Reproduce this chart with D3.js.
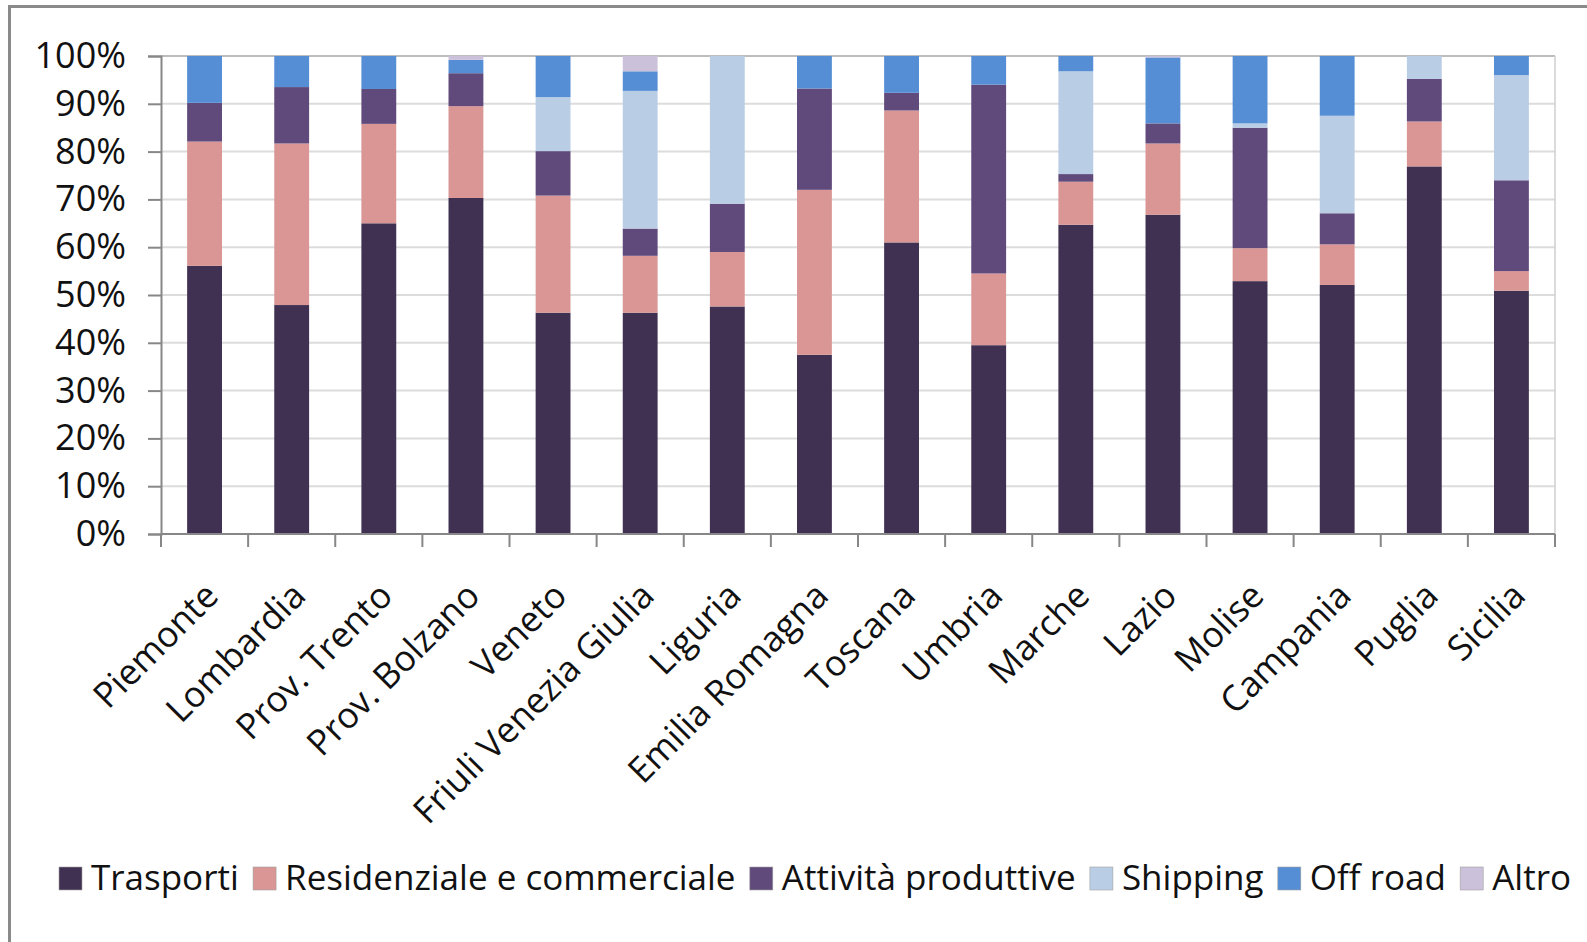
<!DOCTYPE html>
<html>
<head>
<meta charset="utf-8">
<script src="https://cdn.jsdelivr.net/npm/d3@7"></script>
<style>
  body { margin: 0; background: #fff; }
  text { font-family: "Open Sans", "Noto Sans", sans-serif; fill: #111; }
</style>
</head>
<body>
<div id="chart"></div>
<script>
// Regions on the x axis
const regions = ['Piemonte', 'Lombardia', 'Prov. Trento', 'Prov. Bolzano', 'Veneto',
  'Friuli Venezia Giulia', 'Liguria', 'Emilia Romagna', 'Toscana', 'Umbria',
  'Marche', 'Lazio', 'Molise', 'Campania', 'Puglia', 'Sicilia'];

// Share of each sector (%)
const trasporti     = [56.1, 47.9, 65.0, 70.3, 46.3, 46.3, 47.6, 37.5, 61.0, 39.5, 64.7, 66.8, 52.9, 52.1, 76.9, 50.9];
const residenziale  = [26.0, 33.8, 20.8, 19.2, 24.5, 11.9, 11.4, 34.5, 27.6, 15.0,  9.0, 14.9,  6.9,  8.5,  9.4,  4.1];
const attivita      = [ 8.1, 11.8,  7.3,  6.9,  9.3,  5.7, 10.1, 21.2,  3.7, 39.5,  1.6,  4.2, 25.2,  6.5,  8.9, 19.0];
const shipping      = [ 0.0,  0.0,  0.0,  0.0, 11.3, 28.8, 30.9,  0.0,  0.0,  0.0, 21.5,  0.0,  0.9, 20.4,  4.8, 22.0];
const offRoad       = [ 9.8,  6.5,  6.9,  2.8,  8.6,  4.1,  0.0,  6.8,  7.7,  6.0,  3.2, 13.8, 14.1, 12.5,  0.0,  4.0];
const altro         = [ 0.0,  0.0,  0.0,  0.8,  0.0,  3.2,  0.0,  0.0,  0.0,  0.0,  0.0,  0.3,  0.0,  0.0,  0.0,  0.0];

const seriesNames = ['Trasporti', 'Residenziale e commerciale', 'Attività produttive', 'Shipping', 'Off road', 'Altro'];
const seriesValues = [trasporti, residenziale, attivita, shipping, offRoad, altro];
const seriesColors = ['#403152', '#d99694', '#604a7b', '#b9cde5', '#558ed5', '#ccc1da'];

const yTicks = [0, 10, 20, 30, 40, 50, 60, 70, 80, 90, 100];

// Build table for d3.stack
const table = regions.map((r, i) => {
  const row = { region: r };
  seriesNames.forEach((s, j) => { row[s] = seriesValues[j][i]; });
  return row;
});

const W = 1587, H = 942;
const margin = { top: 56, right: 32, bottom: 408, left: 161 };
const width = W - margin.left - margin.right;
const height = H - margin.top - margin.bottom;

const svg = d3.select('#chart')
  .append('svg')
  .attr('width', W)
  .attr('height', H);

svg.append('rect').attr('width', W).attr('height', H).attr('fill', '#fff');

// Outer frame (left and top visible)
svg.append('line').attr('x1', 9.5).attr('x2', 9.5).attr('y1', 5).attr('y2', H)
  .attr('stroke', '#8a8a8a').attr('stroke-width', 3);
svg.append('line').attr('x1', 8).attr('x2', W).attr('y1', 6.5).attr('y2', 6.5)
  .attr('stroke', '#8a8a8a').attr('stroke-width', 3);

const g = svg.append('g')
  .attr('transform', 'translate(' + margin.left + ',' + margin.top + ')');

const xScale = d3.scaleBand()
  .domain(regions)
  .range([0, width])
  .paddingInner(0.6)
  .paddingOuter(0.3);

const yScale = d3.scaleLinear()
  .domain([0, 100])
  .range([height, 0]);

// Gridlines
g.selectAll('.grid')
  .data(yTicks.slice(1))
  .enter()
  .append('line')
  .attr('x1', 0)
  .attr('x2', width)
  .attr('y1', d => yScale(d))
  .attr('y2', d => yScale(d))
  .attr('stroke', d => d === 100 ? '#bdbdbd' : '#dcdcdc')
  .attr('stroke-width', 2);

// Right border of plot area
g.append('line')
  .attr('x1', width).attr('x2', width)
  .attr('y1', 0).attr('y2', height)
  .attr('stroke', '#cfcfcf').attr('stroke-width', 1.5);

// Stacked bars
const stack = d3.stack().keys(seriesNames);
const layers = stack(table);

g.selectAll('.layer')
  .data(layers)
  .enter()
  .append('g')
  .attr('fill', (d, i) => seriesColors[i])
  .selectAll('rect')
  .data(d => d)
  .enter()
  .append('rect')
  .attr('x', d => xScale(d.data.region))
  .attr('y', d => yScale(d[1]))
  .attr('width', xScale.bandwidth())
  .attr('height', d => yScale(d[0]) - yScale(d[1]));

// Y axis
const yAxis = g.append('g')
  .call(d3.axisLeft(yScale).tickValues(yTicks).tickSize(13).tickPadding(22)
    .tickFormat(d => d + '%'));
yAxis.select('.domain').attr('stroke', '#878787').attr('stroke-width', 2);
yAxis.selectAll('.tick line').attr('stroke', '#878787').attr('stroke-width', 2);
yAxis.selectAll('.tick text')
  .attr('font-size', 36)
  .attr('fill', '#111')
  .style('font-family', '"Open Sans", sans-serif');

// X axis: line plus ticks at category boundaries
g.append('line')
  .attr('x1', 0).attr('x2', width)
  .attr('y1', height).attr('y2', height)
  .attr('stroke', '#878787').attr('stroke-width', 2);

const boundaries = d3.range(regions.length + 1).map(i => i * xScale.step());
g.selectAll('.xtick')
  .data(boundaries)
  .enter()
  .append('line')
  .attr('x1', d => d).attr('x2', d => d)
  .attr('y1', height).attr('y2', height + 13)
  .attr('stroke', '#878787').attr('stroke-width', 2);

// Rotated category labels
g.selectAll('.xlabel')
  .data(regions)
  .enter()
  .append('text')
  .attr('transform', d => 'translate(' + (xScale(d) + xScale.bandwidth() / 2 + 6) + ',' + (height + 54) + ') rotate(-45)')
  .attr('text-anchor', 'end')
  .attr('dominant-baseline', 'central')
  .attr('font-size', 35.5)
  .text(d => d);

// Legend
const legend = svg.append('g');
const items = legend.selectAll('.item')
  .data(seriesNames)
  .enter()
  .append('g');

items.append('rect')
  .attr('width', 23)
  .attr('height', 23)
  .attr('y', 867)
  .attr('fill', (d, i) => seriesColors[i])
  .attr('stroke', '#a0a0a0')
  .attr('stroke-width', 0.6);

items.append('text')
  .attr('x', 32)
  .attr('y', 890)
  .attr('font-size', 35)
  .text(d => d);

// Spread items from the left so the last one ends near the right edge
const legendStart = 59, legendEnd = 1571;
function placeLegend() {
  const lens = [];
  items.selectAll('text').each(function() { lens.push(this.getComputedTextLength()); });
  const used = d3.sum(lens) + lens.length * 32;
  const gap = (legendEnd - legendStart - used) / (lens.length - 1);
  let xPos = legendStart;
  items.each(function(d, i) {
    d3.select(this).attr('transform', 'translate(' + xPos + ',0)');
    xPos += 32 + lens[i] + gap;
  });
}
placeLegend();
if (document.fonts) document.fonts.ready.then(placeLegend);
</script>
</body>
</html>
